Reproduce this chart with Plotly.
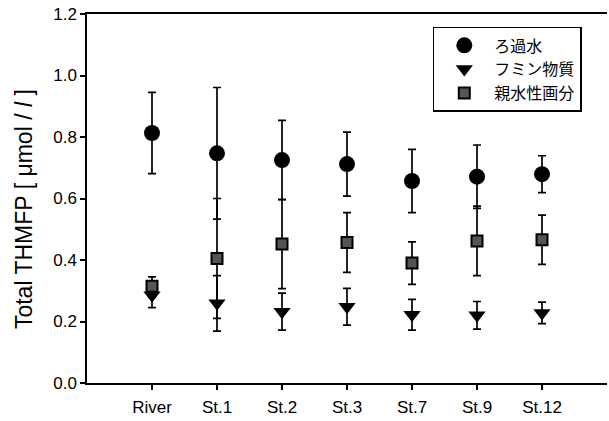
import plotly.graph_objects as go

categories = ["River", "St.1", "St.2", "St.3", "St.7", "St.9", "St.12"]
xpos = [0, 1, 2, 3, 4, 5, 6]

filt_mean = [0.813, 0.747, 0.725, 0.712, 0.657, 0.671, 0.679]
filt_err = [0.132, 0.214, 0.129, 0.104, 0.103, 0.103, 0.060]

humic_mean = [0.285, 0.259, 0.232, 0.248, 0.222, 0.220, 0.228]
humic_err = [0.04, 0.090, 0.060, 0.060, 0.050, 0.045, 0.035]

hydro_mean = [0.315, 0.405, 0.452, 0.457, 0.390, 0.462, 0.466]
hydro_err = [0.030, 0.195, 0.145, 0.097, 0.069, 0.113, 0.080]

names = ["ろ過水", "フミン物質", "親水性画分"]
y_title = "Total THMFP [ μmol / <i>l</i> ]"

fig = go.Figure()

def add(mean, err, name, symbol, size, color, lw):
    fig.add_trace(go.Scatter(
        x=xpos, y=mean, mode="markers", name=name,
        marker=dict(symbol=symbol, size=size, color=color,
                    line=dict(color="black", width=lw)),
        error_y=dict(type="data", array=err, visible=True,
                     color="black", thickness=1.7, width=4),
    ))

add(filt_mean, filt_err, names[0], "circle", 16, "black", 0)
add(humic_mean, humic_err, names[1], "triangle-down", 15, "black", 0)
add(hydro_mean, hydro_err, names[2], "square", 11, "#555555", 2)

fig.add_annotation(
    text=y_title, textangle=-90, xref="paper", yref="paper",
    x=-0.121, y=0.4715, xanchor="center", yanchor="middle",
    showarrow=False, font=dict(size=23, color="black"),
)

fig.update_layout(
    width=609, height=421,
    margin=dict(l=87, r=2, t=14, b=38),
    paper_bgcolor="white", plot_bgcolor="white",
    font=dict(family="Liberation Sans, Arial, sans-serif", color="black", size=15),
    showlegend=True,
    legend=dict(
        x=0.665, y=0.965, xanchor="left", yanchor="top",
        bordercolor="black", borderwidth=1.5, bgcolor="white",
        font=dict(family="Noto Sans CJK JP", size=16, color="black"),
        itemwidth=50, tracegroupgap=0,
    ),
    xaxis=dict(
        range=[-1, 7], tickmode="array", tickvals=xpos, ticktext=categories,
        showgrid=False, zeroline=False, showline=True, linecolor="black",
        linewidth=1.5, mirror=True, ticks="outside", ticklen=5,
        tickcolor="black", tickwidth=1.5, ticklabelstandoff=3,
        tickfont=dict(size=17),
    ),
    yaxis=dict(
        range=[0, 1.2], tickmode="array",
        tickvals=[0, 0.2, 0.4, 0.6, 0.8, 1.0, 1.2],
        ticktext=["0.0", "0.2", "0.4", "0.6", "0.8", "1.0", "1.2"],
        showgrid=False, zeroline=False, showline=True, linecolor="black",
        linewidth=1.5, ticks="outside", ticklen=5, tickcolor="black",
        tickwidth=1.5, tickfont=dict(size=17),
    ),
)

fig.write_html("out.html")
